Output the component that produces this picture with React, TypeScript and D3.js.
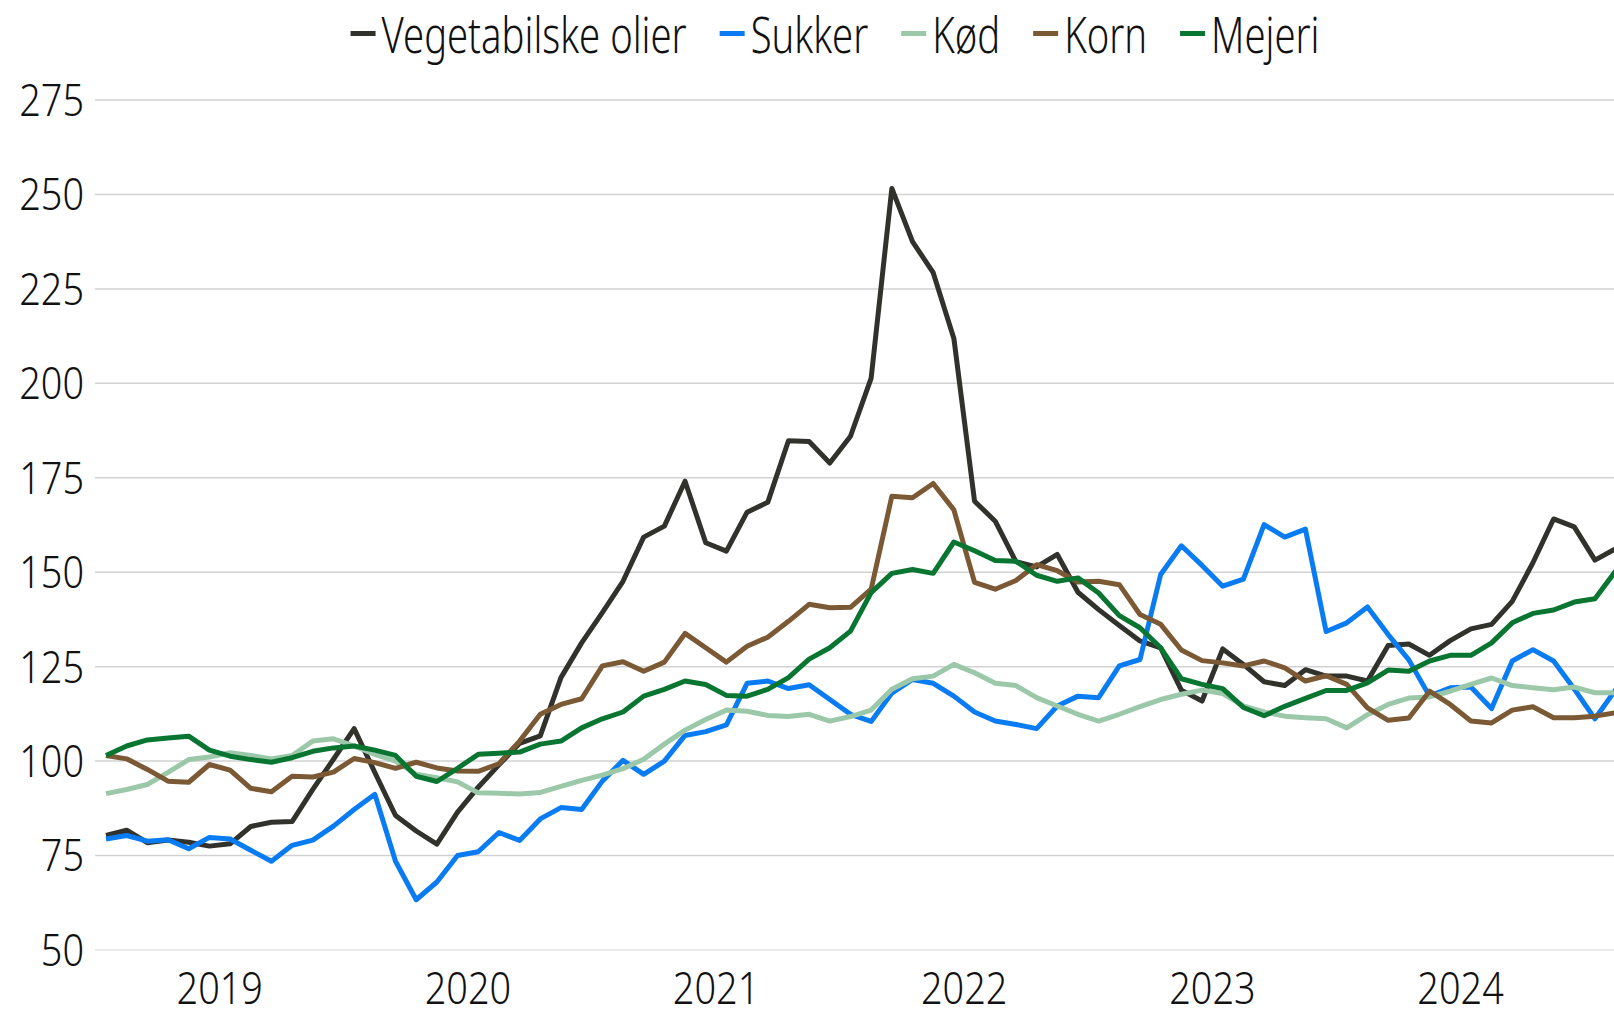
import { useEffect, useRef } from "react";
import * as d3 from "d3";

// Monthly index, Jan 2019 - Feb 2025
const months = [
  "2019-01", "2019-02", "2019-03", "2019-04", "2019-05", "2019-06", "2019-07", "2019-08", "2019-09", "2019-10", "2019-11", "2019-12",
  "2020-01", "2020-02", "2020-03", "2020-04", "2020-05", "2020-06", "2020-07", "2020-08", "2020-09", "2020-10", "2020-11", "2020-12",
  "2021-01", "2021-02", "2021-03", "2021-04", "2021-05", "2021-06", "2021-07", "2021-08", "2021-09", "2021-10", "2021-11", "2021-12",
  "2022-01", "2022-02", "2022-03", "2022-04", "2022-05", "2022-06", "2022-07", "2022-08", "2022-09", "2022-10", "2022-11", "2022-12",
  "2023-01", "2023-02", "2023-03", "2023-04", "2023-05", "2023-06", "2023-07", "2023-08", "2023-09", "2023-10", "2023-11", "2023-12",
  "2024-01", "2024-02", "2024-03", "2024-04", "2024-05", "2024-06", "2024-07", "2024-08", "2024-09", "2024-10", "2024-11", "2024-12",
  "2025-01", "2025-02",
];

const years = ["2019", "2020", "2021", "2022", "2023", "2024"];
const yTicks = [50, 75, 100, 125, 150, 175, 200, 225, 250, 275];

const vegOil = [
  80.3, 81.7, 78.4, 79.1, 78.5, 77.5, 78.1, 82.7, 83.8, 84.0, 92.5, 100.5,
  108.6, 97.0, 85.6, 81.5, 78.0, 86.5, 93.1, 99.0, 104.7, 106.7, 122.1, 131.3,
  139.3, 147.6, 159.3, 162.2, 174.1, 157.8, 155.6, 165.9, 168.5, 184.8, 184.6, 178.9,
  186.0, 201.4, 251.6, 237.5, 229.3, 211.9, 168.8, 163.5, 152.8, 151.4, 154.7, 144.7,
  140.1, 135.9, 131.8, 130.0, 118.8, 115.9, 129.7, 125.6, 121.0, 120.0, 124.2, 122.5,
  122.5, 121.2, 130.6, 131.0, 128.0, 131.9, 135.0, 136.2, 142.3, 152.5, 164.1, 162.0,
  153.2, 156.2,
];

const sugar = [
  79.4, 80.3, 78.8, 79.2, 76.8, 79.8, 79.4, 76.4, 73.5, 77.7, 79.1, 82.8,
  87.2, 91.2, 73.5, 63.3, 68.0, 75.0, 76.0, 81.1, 79.0, 84.7, 87.7, 87.2,
  94.7, 100.2, 96.5, 100.0, 106.8, 107.8, 109.6, 120.6, 121.2, 119.2, 120.2, 116.3,
  112.4, 110.5, 118.0, 121.6, 120.6, 117.2, 113.0, 110.6, 109.7, 108.6, 114.6, 117.2,
  116.8, 125.2, 126.9, 149.4, 157.0, 151.8, 146.3, 148.2, 162.6, 159.3, 161.4, 134.3,
  136.6, 140.8, 133.5, 126.8, 117.2, 119.4, 119.6, 113.9, 126.5, 129.5, 126.5, 119.1,
  111.2, 118.9,
];

const meat = [
  91.4, 92.5, 93.8, 97.0, 100.4, 101.1, 102.2, 101.5, 100.6, 101.5, 105.3, 105.9,
  104.0, 101.8, 100.0, 96.5, 95.6, 94.5, 91.6, 91.5, 91.3, 91.7, 93.3, 94.9,
  96.3, 98.0, 100.5, 104.5, 108.2, 111.0, 113.5, 113.2, 112.1, 111.8, 112.4, 110.6,
  111.8, 113.5, 119.0, 121.8, 122.5, 125.6, 123.4, 120.6, 120.0, 116.8, 114.6, 112.4,
  110.6, 112.4, 114.4, 116.3, 117.7, 118.8, 117.9, 114.6, 113.0, 111.9, 111.5, 111.2,
  108.8, 112.3, 115.0, 116.7, 117.0, 118.5, 120.3, 122.0, 120.0, 119.4, 118.9, 119.6,
  118.1, 118.1,
];

const cereals = [
  101.5, 100.6, 97.8, 94.7, 94.4, 99.1, 97.6, 92.8, 91.9, 96.0, 95.8, 97.1,
  100.7, 99.6, 98.1, 99.7, 98.2, 97.4, 97.3, 99.3, 105.3, 112.4, 115.0, 116.5,
  125.2, 126.3, 123.8, 126.2, 133.8, 130.0, 126.2, 130.4, 132.8, 137.0, 141.5, 140.6,
  140.7, 145.5, 170.1, 169.7, 173.5, 166.5, 147.3, 145.5, 147.8, 152.0, 150.4, 147.4,
  147.6, 146.7, 138.8, 136.2, 129.4, 126.6, 126.0, 125.2, 126.5, 124.7, 121.2, 122.6,
  120.3, 114.1, 110.8, 111.4, 118.5, 115.0, 110.6, 110.1, 113.5, 114.4, 111.5, 111.5,
  111.9, 112.8,
];

const dairy = [
  101.5, 104.0, 105.6, 106.1, 106.6, 102.9, 101.3, 100.4, 99.7, 100.9, 102.6, 103.5,
  104.0, 102.9, 101.5, 96.0, 94.6, 98.1, 101.8, 102.1, 102.4, 104.5, 105.3, 108.8,
  111.2, 113.0, 117.2, 119.0, 121.2, 120.3, 117.4, 117.2, 119.0, 122.1, 127.0, 130.0,
  134.4, 144.6, 149.7, 150.7, 149.7, 158.0, 155.7, 153.1, 152.9, 149.2, 147.6, 148.5,
  144.5, 138.5, 135.3, 130.0, 121.8, 120.3, 119.2, 114.2, 112.0, 114.5, 116.6, 118.7,
  118.7, 120.7, 124.1, 123.8, 126.5, 128.0, 128.0, 131.3, 136.6, 139.1, 140.0, 142.1,
  143.0, 150.3,
];

const seriesNames = ["Vegetabilske olier", "Sukker", "Kød", "Korn", "Mejeri"];
const seriesColors = ["#32322d", "#0a7cf3", "#9cc8aa", "#7b5934", "#087530"];
const seriesValues = [vegOil, sugar, meat, cereals, dairy];

const FONT = "'Noto Sans', sans-serif";
const NUM_SX = 0.86; // horizontal squeeze to mimic the narrow light face
const LEG_SX = 0.78;

const App = () => {
  const ref = useRef<SVGSVGElement>(null);

  useEffect(() => {
    if (!ref.current) return;
    const svg = d3.select(ref.current);
    svg.selectAll("*").remove();

    const width = 1614;
    const plotLeft = 95;
    const step = 20.68;

    const x = d3
      .scalePoint<string>()
      .domain(months)
      .range([106, 106 + (months.length - 1) * step]);

    const y = d3.scaleLinear().domain([50, 275]).range([950, 100]);

    // gridlines
    svg
      .append("g")
      .selectAll("line")
      .data(yTicks)
      .enter()
      .append("line")
      .attr("x1", plotLeft)
      .attr("x2", width)
      .attr("y1", (d) => y(d))
      .attr("y2", (d) => y(d))
      .attr("stroke", (d) => (d === 50 ? "#e4e4e4" : "#d2d2d2"))
      .attr("stroke-width", 1.5);

    // y labels
    svg
      .append("g")
      .selectAll("text")
      .data(yTicks)
      .enter()
      .append("text")
      .attr("transform", (d) => `translate(84,${y(d)}) scale(${NUM_SX},1)`)
      .attr("dy", "0.36em")
      .attr("text-anchor", "end")
      .attr("font-family", FONT)
      .attr("font-weight", 300)
      .attr("font-size", 44)
      .attr("fill", "#111")
      .text((d) => d);

    // year labels
    svg
      .append("g")
      .selectAll("text")
      .data(years)
      .enter()
      .append("text")
      .attr(
        "transform",
        (d) =>
          `translate(${((x(`${d}-01`) ?? 0) + (x(`${d}-12`) ?? 0)) / 2},1004) scale(${NUM_SX},1)`
      )
      .attr("text-anchor", "middle")
      .attr("font-family", FONT)
      .attr("font-weight", 300)
      .attr("font-size", 44)
      .attr("fill", "#111")
      .text((d) => d);

    // lines
    const line = d3
      .line<number>()
      .x((_, i) => x(months[i]) ?? 0)
      .y((d) => y(d));

    svg
      .append("g")
      .selectAll("path")
      .data(seriesValues)
      .enter()
      .append("path")
      .attr("d", (d) => line(d))
      .attr("fill", "none")
      .attr("stroke", (_, i) => seriesColors[i])
      .attr("stroke-width", 5)
      .attr("stroke-linejoin", "round");

    // legend
    const legend = svg.append("g");
    let cx = 0;
    seriesNames.forEach((name, i) => {
      legend
        .append("rect")
        .attr("x", cx)
        .attr("y", 31)
        .attr("width", 25)
        .attr("height", 5)
        .attr("fill", seriesColors[i]);
      const t = legend
        .append("text")
        .attr("transform", `translate(${cx + 31},53) scale(${LEG_SX},1)`)
        .attr("font-family", FONT)
        .attr("font-weight", 300)
        .attr("font-size", 49)
        .attr("fill", "#111")
        .text(name);
      const w = (t.node() as SVGTextElement).getComputedTextLength() * LEG_SX;
      cx += 31 + w + (i < seriesNames.length - 1 ? 33 : 0);
    });
    legend.attr("transform", `translate(${835 - cx / 2},0)`);
  }, []);

  return (
    <svg
      ref={ref}
      width={1614}
      height={1018}
      style={{ position: "absolute", left: 0, top: 0, background: "#fff" }}
    />
  );
};

export default App;
